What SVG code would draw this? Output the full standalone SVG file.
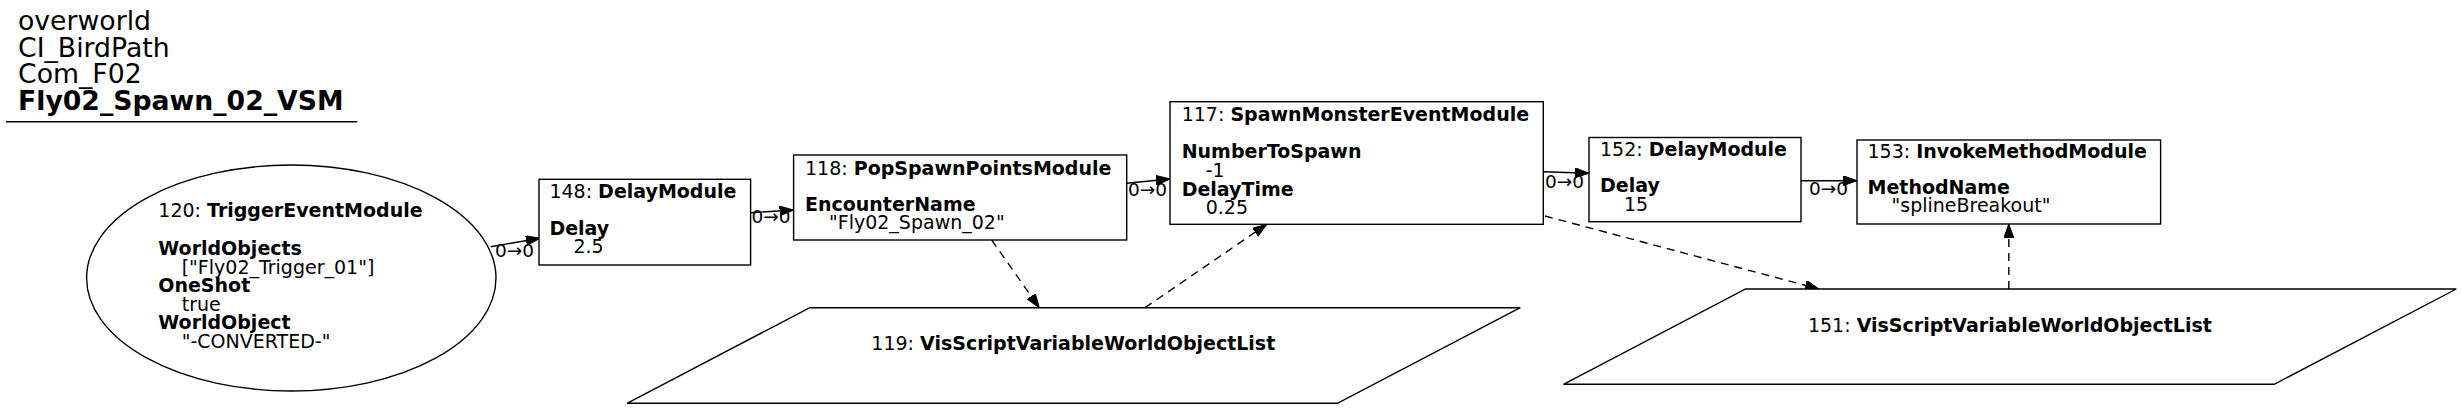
<svg xmlns="http://www.w3.org/2000/svg" width="2461" height="409" viewBox="0 0 2461 409">
<defs>
<style>
text { font-family: "DejaVu Sans", "Liberation Sans", sans-serif; fill: #000; }
.t { font-size: 26.7px; }
.n { font-size: 19px; }
.el { font-size: 18.5px; }
.b { font-weight: bold; }
.shape { fill: #fff; stroke: #000; stroke-width: 1.4; }
.edge { fill: none; stroke: #000; stroke-width: 1.4; }
.dash { stroke-dasharray: 8,6; }
</style>
<marker id="arr" markerUnits="userSpaceOnUse" markerWidth="16" markerHeight="12" refX="14" refY="5" orient="auto" viewBox="0 0 16 12">
<path d="M0,0 L14,5 L0,10 z" fill="#000" stroke="#000" stroke-width="1"/>
</marker>
</defs>
<rect width="2461" height="409" fill="#fff"/>

<g id="title">
<text class="t" x="18" y="30">overworld</text>
<text class="t" x="18" y="57">CI_BirdPath</text>
<text class="t" x="18" y="83">Com_F02</text>
<text class="t b" x="18" y="110">Fly02_Spawn_02_VSM</text>
<line x1="6" y1="121.7" x2="357.3" y2="121.7" stroke="#000" stroke-width="1.4"/>
</g>

<g id="connectors">
<path class="edge" d="M490.7,246.7 L540,238.3" marker-end="url(#arr)"/>
<text class="el" x="495" y="257.3">0→0</text>
<path class="edge" d="M750.6,212.7 L793.6,210" marker-end="url(#arr)"/>
<text class="el" x="751.5" y="223.3">0→0</text>
<path class="edge" d="M1126.7,183.3 L1170,179" marker-end="url(#arr)"/>
<text class="el" x="1128" y="195.7">0→0</text>
<path class="edge" d="M1543.3,171.7 L1589,173.3" marker-end="url(#arr)"/>
<text class="el" x="1545" y="188.3">0→0</text>
<path class="edge" d="M1801,180.7 L1857,180.7" marker-end="url(#arr)"/>
<text class="el" x="1809" y="195">0→0</text>
<path class="edge dash" d="M991.7,240 L1039.3,307.7" marker-end="url(#arr)"/>
<path class="edge dash" d="M1145,307.7 L1266.7,224.3" marker-end="url(#arr)"/>
<path class="edge dash" d="M1545,216 L1819,289" marker-end="url(#arr)"/>
<path class="edge dash" d="M2008.8,289 L2008.8,224" marker-end="url(#arr)"/>
</g>

<g id="node120">
<ellipse class="shape" cx="291.3" cy="278" rx="204.7" ry="113"/>
<text class="n" x="158.3" y="217.3">120: <tspan class="b">TriggerEventModule</tspan></text>
<text class="n b" x="158.3" y="255">WorldObjects</text>
<text class="n" x="181.7" y="273.5">["Fly02_Trigger_01"]</text>
<text class="n b" x="158.3" y="292">OneShot</text>
<text class="n" x="181.7" y="310.5">true</text>
<text class="n b" x="158.3" y="329">WorldObject</text>
<text class="n" x="181.7" y="347.5">"-CONVERTED-"</text>
</g>

<g id="node148">
<rect class="shape" x="539" y="179.3" width="211.6" height="85.7"/>
<text class="n" x="549.4" y="198.3">148: <tspan class="b">DelayModule</tspan></text>
<text class="n b" x="549.4" y="235">Delay</text>
<text class="n" x="573.4" y="253.3">2.5</text>
</g>

<g id="node118">
<rect class="shape" x="793.6" y="155" width="333.1" height="85"/>
<text class="n" x="805" y="174.5">118: <tspan class="b">PopSpawnPointsModule</tspan></text>
<text class="n b" x="805" y="210.5">EncounterName</text>
<text class="n" x="829" y="229">"Fly02_Spawn_02"</text>
</g>

<g id="node117">
<rect class="shape" x="1170" y="101.7" width="373.3" height="122.6"/>
<text class="n" x="1181.7" y="120.7">117: <tspan class="b">SpawnMonsterEventModule</tspan></text>
<text class="n b" x="1181.7" y="158.3">NumberToSpawn</text>
<text class="n" x="1205.7" y="177.3">-1</text>
<text class="n b" x="1181.7" y="195.8">DelayTime</text>
<text class="n" x="1205.7" y="214.3">0.25</text>
</g>

<g id="node152">
<rect class="shape" x="1589" y="137.5" width="212" height="84.2"/>
<text class="n" x="1600" y="155.8">152: <tspan class="b">DelayModule</tspan></text>
<text class="n b" x="1600" y="192.3">Delay</text>
<text class="n" x="1624" y="210.6">15</text>
</g>

<g id="node153">
<rect class="shape" x="1857" y="140" width="303.6" height="84"/>
<text class="n" x="1867.5" y="157.5">153: <tspan class="b">InvokeMethodModule</tspan></text>
<text class="n b" x="1867.5" y="194.2">MethodName</text>
<text class="n" x="1891.5" y="212.3">"splineBreakout"</text>
</g>

<g id="node119">
<polygon class="shape" points="809.8,307.7 1520.3,307.7 1337.4,403.3 627,403.3"/>
<text class="n" x="1073.3" y="350" text-anchor="middle">119: <tspan class="b">VisScriptVariableWorldObjectList</tspan></text>
</g>

<g id="node151">
<polygon class="shape" points="1745.6,289 2456.3,289 2274.2,384.3 1563.5,384.3"/>
<text class="n" x="2009.9" y="331.7" text-anchor="middle">151: <tspan class="b">VisScriptVariableWorldObjectList</tspan></text>
</g>
</svg>
